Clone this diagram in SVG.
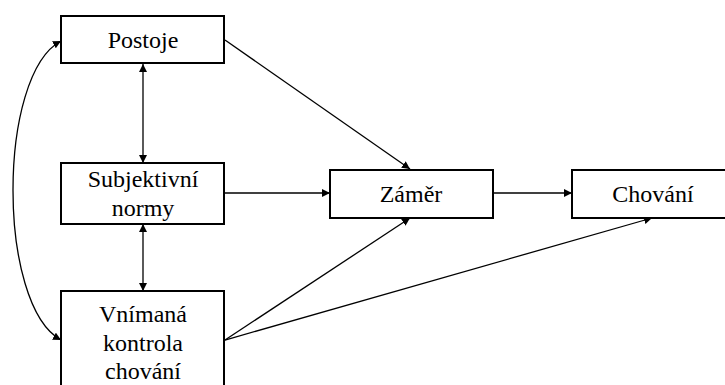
<svg xmlns="http://www.w3.org/2000/svg" width="725" height="385" viewBox="0 0 725 385">
<style>
.box{fill:#fff;stroke:#000;stroke-width:2}
.t{font-family:'Liberation Serif','Times New Roman','DejaVu Serif',serif;font-size:24px;fill:#000;text-anchor:middle}
.c{fill:none;stroke:#000;stroke-width:1.3}
</style>
<defs>
<marker id="ah" viewBox="0 0 10 10" refX="10" refY="5" markerWidth="8" markerHeight="8" markerUnits="userSpaceOnUse" orient="auto-start-reverse">
<path d="M0,0 L10,5 L0,10 Z" fill="#000"/>
</marker>
</defs>
<rect width="725" height="385" fill="#fff"/>
<g id="connectors">
<path class="c" d="M61,41 C-3,75 -3,305 61,340" marker-start="url(#ah)" marker-end="url(#ah)"/>
<line class="c" x1="143" y1="64" x2="143" y2="163" marker-start="url(#ah)" marker-end="url(#ah)"/>
<line class="c" x1="143" y1="224" x2="143" y2="291" marker-start="url(#ah)" marker-end="url(#ah)"/>
<line class="c" x1="225" y1="40" x2="410" y2="169" marker-end="url(#ah)"/>
<line class="c" x1="225" y1="193" x2="330" y2="193" marker-end="url(#ah)"/>
<line class="c" x1="494" y1="193" x2="572" y2="193" marker-end="url(#ah)"/>
<line class="c" x1="225" y1="340" x2="410" y2="218" marker-end="url(#ah)"/>
<line class="c" x1="225" y1="340" x2="652" y2="218" marker-end="url(#ah)"/>
</g>
<g id="postoje">
<rect class="box" x="61" y="16" width="163" height="47"/>
<text class="t" x="143" y="48" font-family="Liberation Serif, serif">Postoje</text>
</g>
<g id="subjektivni">
<rect class="box" x="61" y="163" width="163" height="61"/>
<text class="t" x="143" y="187">Subjektivní</text>
<text class="t" x="143" y="216">normy</text>
</g>
<g id="vnimana">
<rect class="box" x="61" y="291" width="163" height="110"/>
<text class="t" x="143" y="322">Vnímaná</text>
<text class="t" x="143" y="351">kontrola</text>
<text class="t" x="143" y="379">chování</text>
</g>
<g id="zamer">
<rect class="box" x="330" y="170" width="163" height="48"/>
<text class="t" x="411" y="202">Záměr</text>
</g>
<g id="chovani">
<rect class="box" x="572" y="170" width="163" height="48"/>
<text class="t" x="653" y="202">Chování</text>
</g>
</svg>
